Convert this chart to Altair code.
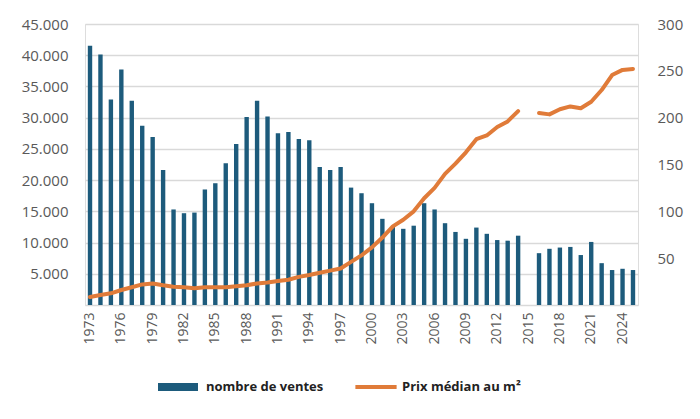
import altair as alt
import pandas as pd

years = list(range(1973, 2026))
ventes = [41500, 40100, 32900, 37700, 32700, 28700, 26900, 21600, 15300, 14700,
          14800, 18500, 19500, 22700, 25800, 30100, 32700, 30200, 27500, 27700,
          26600, 26400, 22100, 21600, 22100, 18800, 17900, 16300, 13800, 12500,
          12200, 12700, 16300, 15300, 13100, 11700, 10600, 12400, 11400, 10400,
          10300, 11100, None, 8300, 9000, 9200, 9300, 8000, 10100, 6700,
          5600, 5800, 5600]
prix = [8.5, 10.7, 12.5, 16, 19, 22, 23, 21, 19.6, 19,
        18, 19, 19, 19, 20, 21, 23, 24, 25.6, 27,
        30, 32, 34.5, 36.7, 39, 46, 53, 61.5, 72, 84,
        91, 100, 114, 125, 140, 151, 163, 177, 181, 190,
        196, 207, None, 205, 203.5, 209, 212, 210, 217, 229.5,
        245.5, 251, 252]
label_years = list(range(1973, 2026, 3))
left_ticks = [0, 5000, 10000, 15000, 20000, 25000, 30000, 35000, 40000, 45000]
right_ticks = [50, 100, 150, 200, 250, 300]

BLUE = "#1d5b7c"
ORANGE = "#e07b39"
GREY = "#595959"
FONT = "Open Sans"

df = pd.DataFrame({"annee": years, "ventes": ventes, "prix": prix})
df["seg"] = ["avant" if y < 2015 else "apres" for y in years]

label_set = "[" + ",".join(str(y) for y in label_years) + "]"

x = alt.X(
    "annee:O",
    scale=alt.Scale(domain=years, paddingInner=0.58, paddingOuter=0.27),
    axis=alt.Axis(
        title=None, labelAngle=-90, ticks=False, domain=False, grid=False,
        labelExpr=f"indexof({label_set}, datum.value) >= 0 ? datum.label : ''",
        labelFont=FONT, labelFontSize=14, labelColor=GREY, labelPadding=7,
        labelOverlap=False,
    ),
)

bars = alt.Chart(df).transform_filter("datum.ventes != null").transform_calculate(
    s1="'nombre de ventes'"
).mark_bar(color=BLUE).encode(
    x=x,
    y=alt.Y(
        "ventes:Q",
        scale=alt.Scale(domain=[0, 45000], nice=False),
        axis=alt.Axis(
            title=None, values=left_ticks, ticks=False, domain=False,
            gridColor="#d9d9d9", gridWidth=1.5,
            labelExpr="datum.value == 0 ? '' : replace(format(datum.value, ','), ',', '.')",
            labelFont=FONT, labelFontSize=15, labelColor=GREY, labelPadding=17,
        ),
    ),
    color=alt.Color(
        "s1:N",
        scale=alt.Scale(domain=["nombre de ventes"], range=[BLUE]),
        legend=alt.Legend(
            title=None, orient="none", legendX=73, legendY=343, padding=0,
            symbolType="M-1,-0.2H1V0.2H-1Z", symbolSize=1600, symbolStrokeWidth=0,
            symbolOpacity=1, labelFont=FONT, labelFontWeight="bold",
            labelFontSize=13, labelColor="#222222", labelOffset=8,
        ),
    ),
)

line = alt.Chart(df).transform_filter("datum.prix != null").transform_calculate(
    s2="'Prix médian au m²'"
).mark_line(strokeWidth=4, strokeCap="round", strokeJoin="round").encode(
    x=x,
    y=alt.Y(
        "prix:Q",
        scale=alt.Scale(domain=[0, 300], nice=False),
        axis=alt.Axis(
            title=None, orient="right", values=right_ticks, ticks=False,
            domain=False, grid=False,
            labelFont=FONT, labelFontSize=15, labelColor=GREY, labelPadding=19,
        ),
    ),
    detail="seg:N",
    stroke=alt.Stroke(
        "s2:N",
        scale=alt.Scale(domain=["Prix médian au m²"], range=[ORANGE]),
        legend=alt.Legend(
            title=None, orient="none", legendX=268, legendY=340, padding=0,
            symbolType="stroke", symbolSize=1700, symbolStrokeWidth=4,
            labelFont=FONT, labelFontWeight="bold",
            labelFontSize=13, labelColor="#222222", labelOffset=3,
        ),
    ),
)

chart = alt.layer(bars, line).resolve_scale(y="independent").properties(
    width=553, height=281,
    autosize=alt.AutoSizeParams(type="none"),
    padding={"left": 77, "top": 16, "right": 54, "bottom": 106},
).configure_view(stroke=None).configure(background="white")

chart.save("out.html", embed_options={"renderer": "svg", "actions": False})
